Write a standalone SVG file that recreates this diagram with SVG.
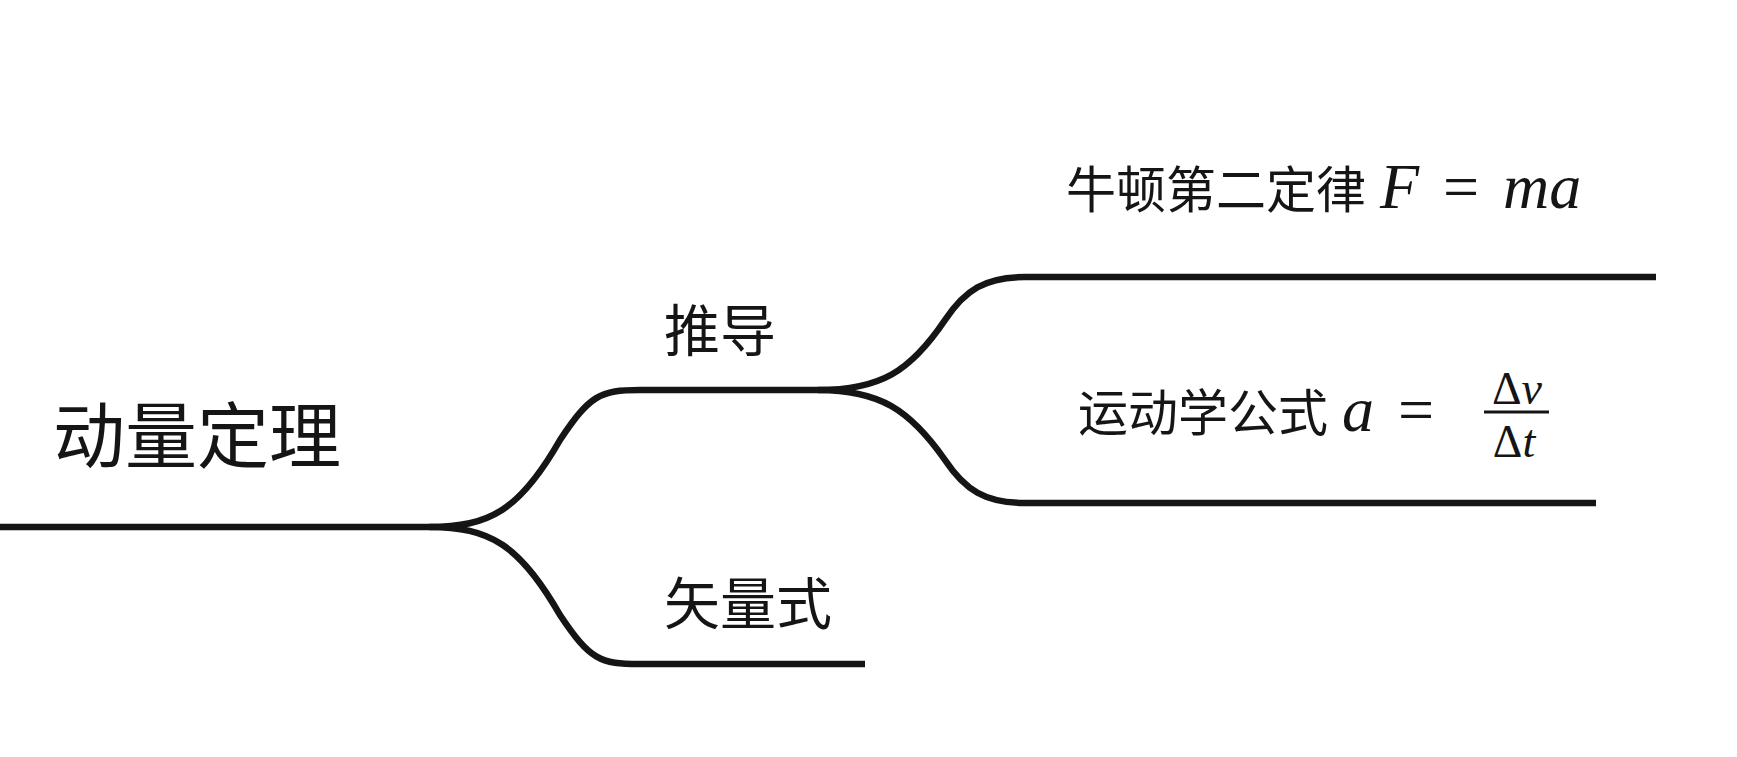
<svg xmlns="http://www.w3.org/2000/svg" width="1737" height="757" viewBox="0 0 1737 757">
<style>
.c{fill:none;stroke:#151515;stroke-width:6.5;stroke-linecap:butt}
.t{font-family:"Liberation Sans","Noto Sans CJK SC",sans-serif;fill:#151515}
.m{font-family:"Liberation Serif",serif;font-style:italic;fill:#151515}
.r{font-family:"Liberation Serif",serif;fill:#151515}
</style>
<rect width="1737" height="757" fill="#fff"/>
<g id="connectors">
<path class="c" d="M0 527 H429 C490 527 520 510 560 440 C590 395 600 390 640 390 H818"/>
<path class="c" d="M429 527 C490 527 520 545 560 615 C590 660 600 664 640 664 H865"/>
<path class="c" d="M818 390 C880 390 910 372 945 320 C965 290 985 277 1025 277 H1656"/>
<path class="c" d="M818 390 C880 390 910 410 945 460 C965 490 985 503 1025 503 H1596"/>
</g>
<g id="root"><text class="t" x="53" y="462" font-size="72">动量定理</text></g>
<g id="n1"><text class="t" x="664" y="351" font-size="56">推导</text></g>
<g id="n2"><text class="t" x="664" y="624" font-size="56">矢量式</text></g>
<g id="n3"><text class="t" x="1066" y="208" font-size="50">牛顿第二定律 <tspan class="m" font-size="64">F</tspan><tspan class="r" font-size="64" dx="24">=</tspan><tspan class="m" font-size="64" dx="24">ma</tspan></text></g>
<g id="n4"><text class="t" x="1078" y="431" font-size="50">运动学公式 <tspan class="m" font-size="64">a</tspan><tspan class="r" font-size="64" dx="24">=</tspan></text>
<text class="r" x="1517" y="404" font-size="46" text-anchor="middle">Δ<tspan class="m">v</tspan></text>
<line x1="1484" y1="412" x2="1549" y2="412" stroke="#151515" stroke-width="3"/>
<text class="r" x="1514" y="457" font-size="46" text-anchor="middle">Δ<tspan class="m">t</tspan></text></g>
</svg>
